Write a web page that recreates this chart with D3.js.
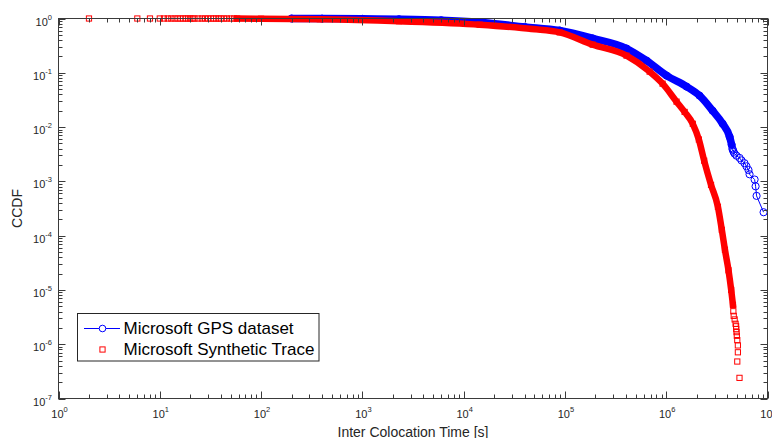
<!DOCTYPE html>
<html>
<head>
<meta charset="utf-8">
<script src="https://cdn.jsdelivr.net/npm/d3@7"></script>
<style>
  body { margin: 0; background: #fff; }
  svg { display: block; }
  text { font-family: "Liberation Sans", Arial, Helvetica, sans-serif; }
</style>
</head>
<body>
<svg id="chart" width="772" height="438"></svg>
<script>
// CCDF of inter-colocation times: measured GPS traces vs. synthetic trace

const xDomain = [1, 1e7];
const yDomain = [1e-7, 1];
const xTickExps = [0, 1, 2, 3, 4, 5, 6, 7];
const yTickExps = [0, -1, -2, -3, -4, -5, -6, -7];

const seriesNames = ["Microsoft GPS dataset", "Microsoft Synthetic Trace"];
const xLabel = "Inter Colocation Time [s]";
const yLabel = "CCDF";

// GPS dataset [seconds, CCDF]: densely sampled body, then the sparse tail
const gpsBody = [
  [200, 1.0], [400, 0.995], [1000, 0.985], [2300, 0.97], [6000, 0.93],
  [14400, 0.85], [40000, 0.70], [88700, 0.60], [188000, 0.43], [406000, 0.28],
  [641000, 0.167], [1.01e6, 0.0887], [1.59e6, 0.0556], [2.13e6, 0.038],
  [2.87e6, 0.020], [3.61e6, 0.0115], [4.23e6, 0.0066], [4.43e6, 0.0047]
];
const gpsTail = [
  [4.5e6, 0.0040], [4.55e6, 0.0038], [4.62e6, 0.0035], [4.73e6, 0.00324],
  [4.94e6, 0.00297], [5.3e6, 0.0027], [5.54e6, 0.00243], [5.93e6, 0.00216],
  [6.2e6, 0.00189], [6.49e6, 0.00162], [6.65e6, 0.00135], [7.46e6, 0.00108],
  [7.63e6, 0.00081], [7.8e6, 0.00054], [9.15e6, 0.00027]
];

// Synthetic trace [seconds, CCDF]: sparse head, dense body, sparse tail
const synthHead = [
  [2, 1.0], [6, 0.99999], [8, 0.99998], [10, 0.99997], [11, 0.99996],
  [12, 0.99995], [13, 0.99994], [14, 0.99993], [15, 0.99992], [16, 0.9999],
  [17, 0.99988], [18, 0.99986], [19, 0.99984], [20, 0.99982], [21, 0.9998],
  [22, 0.99978], [24, 0.99975], [26, 0.9997], [28, 0.99965], [30, 0.9996],
  [32, 0.99955], [34, 0.9995], [36, 0.99945], [38, 0.9994], [40, 0.99935],
  [43, 0.9993], [46, 0.9992], [50, 0.9991], [54, 0.999]
];
const synthBody = [
  [58, 0.998], [100, 0.99], [380, 0.97], [2300, 0.89], [14400, 0.77],
  [48000, 0.64], [88700, 0.555], [188000, 0.33], [406000, 0.207],
  [686000, 0.105], [921000, 0.063], [1.265e6, 0.0294], [1.52e6, 0.019],
  [1.83e6, 0.0115], [2.1e6, 0.0059], [2.37e6, 0.0024], [2.77e6, 8.6e-4],
  [3.24e6, 3.4e-4], [3.54e6, 1.28e-4], [3.8e6, 5.5e-5], [4.12e6, 2.3e-5],
  [4.38e6, 1.0e-5], [4.56e6, 5.3e-6]
];
const synthTail = [
  [4.6e6, 4.05e-6], [4.64e6, 3.33e-6], [4.74e6, 2.86e-6], [4.84e6, 2.38e-6],
  [4.9e6, 2.14e-6], [4.91e6, 1.9e-6], [4.95e6, 1.67e-6], [4.98e6, 1.43e-6],
  [5.03e6, 1.19e-6], [5.1e6, 9.5e-7], [5.1e6, 7.1e-7], [5.03e6, 4.8e-7],
  [5.29e6, 2.4e-7]
];

const BLUE = "#0000ff";
const RED = "#ff0000";
const AXIS = "#3a3a3a";
const TEXT = "#262626";

const svg = d3.select("#chart");
const plot = { left: 58.5, right: 767.5, top: 18.5, bottom: 398.5 };

const x = d3.scaleLog().domain(xDomain).range([plot.left, plot.right]);
const y = d3.scaleLog().domain(yDomain).range([plot.bottom, plot.top]);

const line = d3.line().x(d => x(d[0])).y(d => y(d[1]));
// overplotted markers merge into a smooth band
const band = d3.line().x(d => x(d[0])).y(d => y(d[1])).curve(d3.curveMonotoneX);

// ---- GPS series: overplotted circles form a solid band, thin line through all points
const gAll = gpsBody.concat(gpsTail);
svg.append("path").datum(gpsBody)
  .attr("d", band).attr("fill", "none")
  .attr("stroke", BLUE).attr("stroke-width", 7.5)
  .attr("stroke-linejoin", "round").attr("stroke-linecap", "round");
svg.append("path").datum(gAll)
  .attr("d", line).attr("fill", "none")
  .attr("stroke", BLUE).attr("stroke-width", 1);
svg.append("g").selectAll("circle").data(gAll).join("circle")
  .attr("cx", d => x(d[0])).attr("cy", d => y(d[1])).attr("r", 3.6)
  .attr("fill", "none").attr("stroke", BLUE).attr("stroke-width", 1);

// ---- Synthetic series: square markers only
svg.append("path").datum(synthBody)
  .attr("d", band).attr("fill", "none")
  .attr("stroke", RED).attr("stroke-width", 6.5)
  .attr("stroke-linejoin", "round").attr("stroke-linecap", "square");
const sq = 5.2;
svg.append("g").selectAll("rect").data(synthHead.concat(synthBody, synthTail)).join("rect")
  .attr("x", d => x(d[0]) - sq / 2).attr("y", d => y(d[1]) - sq / 2)
  .attr("width", sq).attr("height", sq)
  .attr("fill", "none").attr("stroke", RED).attr("stroke-width", 1);

// ---- Axes box with inward log ticks on all four sides
const axes = svg.append("g");
axes.append("rect")
  .attr("x", plot.left).attr("y", plot.top)
  .attr("width", plot.right - plot.left).attr("height", plot.bottom - plot.top)
  .attr("fill", "none").attr("stroke", AXIS).attr("stroke-width", 1);

const isMajor = v => Math.abs(Math.log10(v) - Math.round(Math.log10(v))) < 1e-9;
const MAJ = 7, MIN = 4;

x.ticks().forEach(v => {
  const px = Math.round(x(v)) + 0.5;
  const len = isMajor(v) ? MAJ : MIN;
  axes.append("line").attr("x1", px).attr("x2", px)
    .attr("y1", plot.bottom).attr("y2", plot.bottom - len).attr("stroke", AXIS);
  axes.append("line").attr("x1", px).attr("x2", px)
    .attr("y1", plot.top).attr("y2", plot.top + len).attr("stroke", AXIS);
});
y.ticks().forEach(v => {
  const py = Math.round(y(v)) + 0.5;
  const len = isMajor(v) ? MAJ : MIN;
  axes.append("line").attr("y1", py).attr("y2", py)
    .attr("x1", plot.left).attr("x2", plot.left + len).attr("stroke", AXIS);
  axes.append("line").attr("y1", py).attr("y2", py)
    .attr("x1", plot.right).attr("x2", plot.right - len).attr("stroke", AXIS);
});

// Tick labels as 10 with a superscript exponent
function powerLabel(sel, exp) {
  sel.append("tspan").attr("font-size", 11).text("10");
  sel.append("tspan").attr("font-size", 7.5).attr("dy", -6).text(String(exp));
}
xTickExps.forEach(e => {
  const t = svg.append("text")
    .attr("x", x(Math.pow(10, e)) + 1).attr("y", 417.5)
    .attr("text-anchor", "middle").attr("fill", TEXT);
  powerLabel(t, e);
});
yTickExps.forEach(e => {
  const t = svg.append("text")
    .attr("x", 52).attr("y", y(Math.pow(10, e)) + 7)
    .attr("text-anchor", "end").attr("fill", TEXT);
  powerLabel(t, e);
});

// Axis titles
svg.append("text")
  .attr("x", (plot.left + plot.right) / 2).attr("y", 436.5)
  .attr("text-anchor", "middle").attr("font-size", 14).attr("fill", TEXT)
  .text(xLabel);
svg.append("text")
  .attr("transform", `translate(22, ${(plot.top + plot.bottom) / 2}) rotate(-90)`)
  .attr("text-anchor", "middle").attr("font-size", 14).attr("fill", TEXT)
  .text(yLabel);

// ---- Legend
const lg = svg.append("g");
lg.append("rect").attr("x", 77.5).attr("y", 313.5).attr("width", 241.5).attr("height", 47.5)
  .attr("fill", "#fff").attr("stroke", TEXT).attr("stroke-width", 1);
lg.append("line").attr("x1", 84).attr("x2", 120).attr("y1", 328.5).attr("y2", 328.5)
  .attr("stroke", BLUE).attr("stroke-width", 1);
lg.append("circle").attr("cx", 102.5).attr("cy", 328.5).attr("r", 3.3)
  .attr("fill", "#fff").attr("stroke", BLUE);
lg.append("rect").attr("x", 102.5 - sq / 2).attr("y", 349.5 - sq / 2)
  .attr("width", sq).attr("height", sq).attr("fill", "none").attr("stroke", RED);
lg.selectAll("text.lbl").data(seriesNames).join("text")
  .attr("class", "lbl")
  .attr("x", 123.5).attr("y", (d, i) => 333.5 + i * 21.5)
  .attr("font-size", 17).attr("fill", "#000")
  .text(d => d);
</script>
</body>
</html>
